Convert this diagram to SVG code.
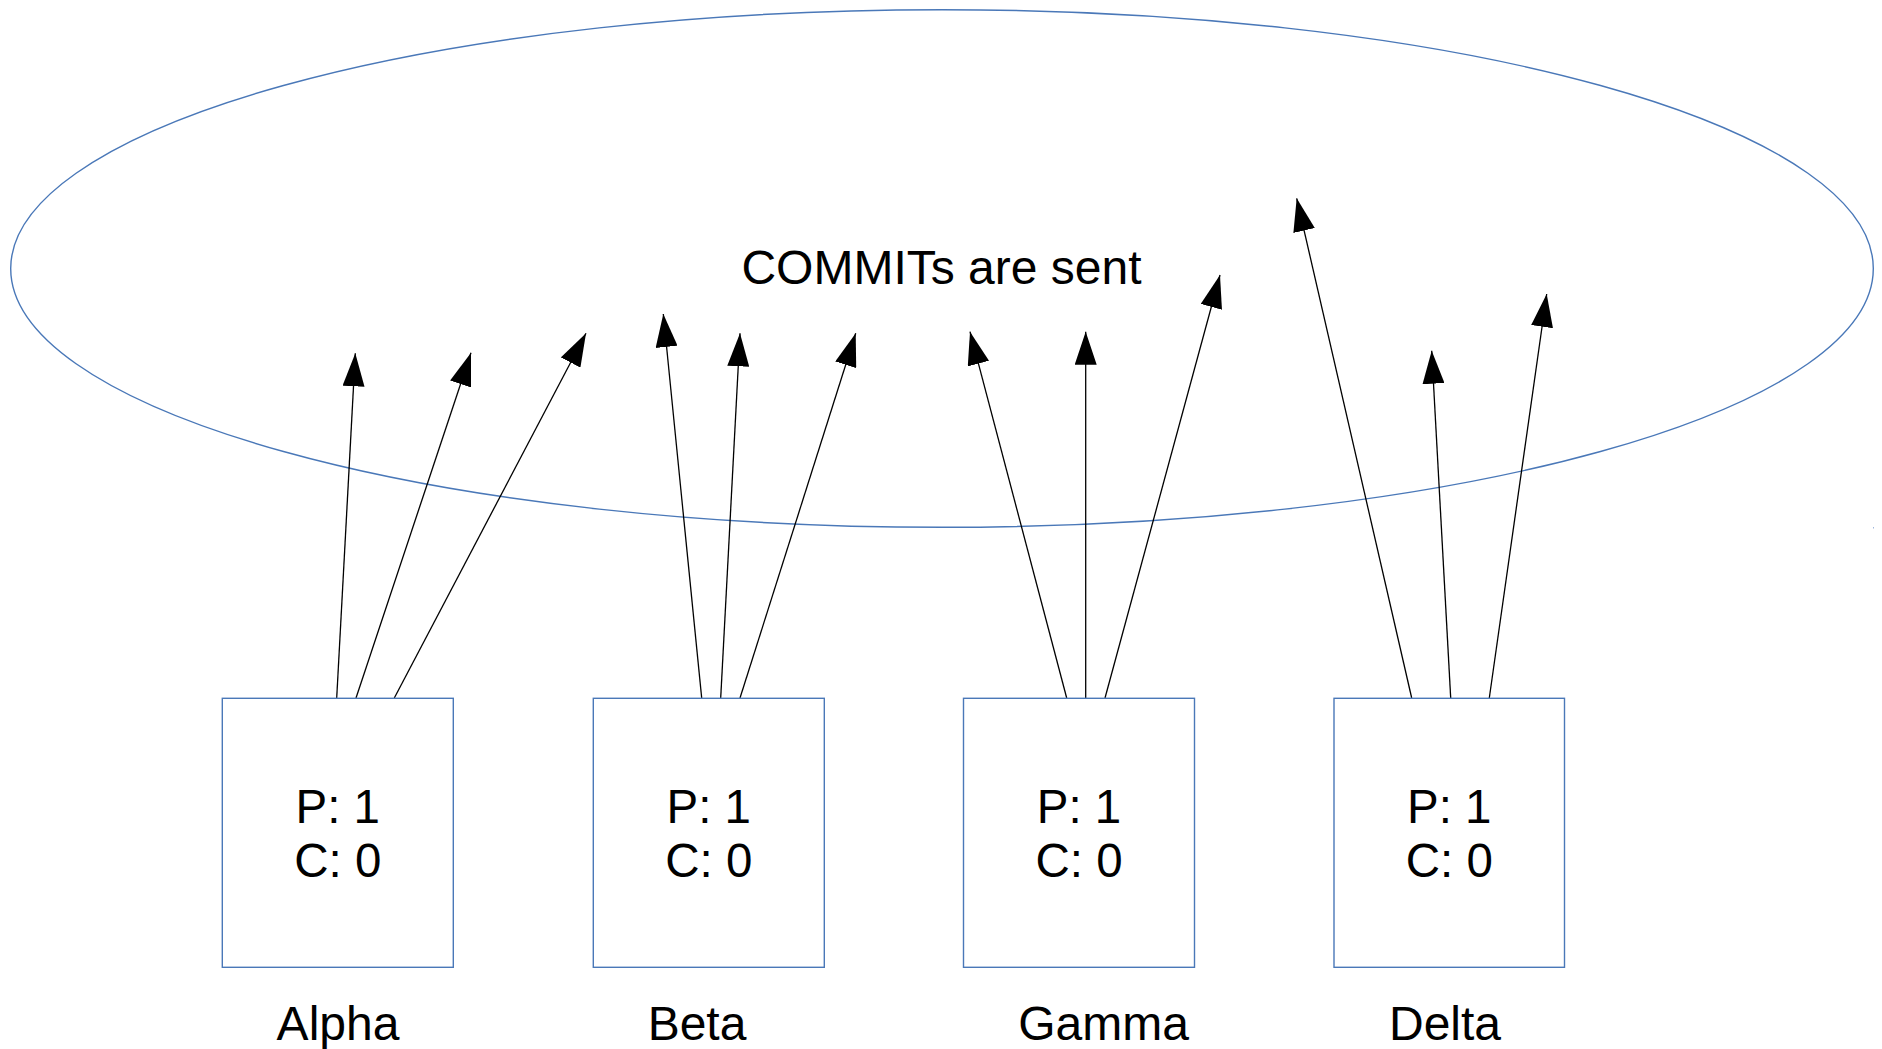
<svg xmlns="http://www.w3.org/2000/svg" width="1882" height="1049" viewBox="0 0 1882 1049">
<style>
  .box { fill: #ffffff; stroke: #4a78b8; stroke-width: 1.4; }
  .oval { fill: none; stroke: #4a78b8; stroke-width: 1.4; }
  .t { font-family: "Liberation Sans", Arial, sans-serif; fill: #000000; text-anchor: middle; }
  .in { font-size: 47.5px; }
  .lbl { font-size: 48px; }
  .arr { stroke: #000000; stroke-width: 1.3; fill: none; marker-end: url(#ah); }
</style>
<defs>
  <marker id="ah" markerUnits="userSpaceOnUse" markerWidth="34" markerHeight="22" refX="33" refY="11" orient="auto" viewBox="0 0 34 22">
    <path d="M0,0 L33,11 L0,22 z" fill="#000000"/>
  </marker>
</defs>
<rect width="1882" height="1049" fill="#ffffff"/>

<g id="cloud">
  <ellipse class="oval" cx="942" cy="268.5" rx="931.3" ry="258.8"/>
  <text class="t lbl" x="941.5" y="284">COMMITs are sent</text>
  <rect x="1873" y="527" width="1" height="1.5" fill="#9fb7dc"/>
</g>

<g id="connectors">
  <line class="arr" x1="336.7" y1="698" x2="355.3" y2="353.3"/>
  <line class="arr" x1="356" y1="698" x2="471" y2="352.7"/>
  <line class="arr" x1="394.3" y1="698" x2="586" y2="333.3"/>

  <line class="arr" x1="701.7" y1="698" x2="663.3" y2="314"/>
  <line class="arr" x1="720.7" y1="698" x2="740" y2="333.3"/>
  <line class="arr" x1="740" y1="698" x2="855.7" y2="333.3"/>

  <line class="arr" x1="1066.7" y1="698" x2="970" y2="331.7"/>
  <line class="arr" x1="1085.7" y1="698" x2="1085.7" y2="331.7"/>
  <line class="arr" x1="1105" y1="698" x2="1220" y2="275"/>

  <line class="arr" x1="1411.7" y1="698" x2="1296.7" y2="198.3"/>
  <line class="arr" x1="1450.7" y1="698" x2="1431.7" y2="350.7"/>
  <line class="arr" x1="1489.3" y1="698" x2="1546.7" y2="294"/>
</g>

<g id="alpha">
  <rect class="box" x="222.3" y="698.3" width="231" height="269"/>
  <text class="t in" x="337.8" y="823.3">P: 1</text>
  <text class="t in" x="337.8" y="876.7">C: 0</text>
  <text class="t lbl" x="338" y="1040">Alpha</text>
</g>

<g id="beta">
  <rect class="box" x="593.3" y="698.3" width="231" height="269"/>
  <text class="t in" x="708.8" y="823.3">P: 1</text>
  <text class="t in" x="708.8" y="876.7">C: 0</text>
  <text class="t lbl" x="697" y="1040">Beta</text>
</g>

<g id="gamma">
  <rect class="box" x="963.5" y="698.3" width="231" height="269"/>
  <text class="t in" x="1079" y="823.3">P: 1</text>
  <text class="t in" x="1079" y="876.7">C: 0</text>
  <text class="t lbl" x="1103.5" y="1040">Gamma</text>
</g>

<g id="delta">
  <rect class="box" x="1334" y="698.3" width="230.5" height="269"/>
  <text class="t in" x="1449.3" y="823.3">P: 1</text>
  <text class="t in" x="1449.3" y="876.7">C: 0</text>
  <text class="t lbl" x="1445" y="1040">Delta</text>
</g>
</svg>
